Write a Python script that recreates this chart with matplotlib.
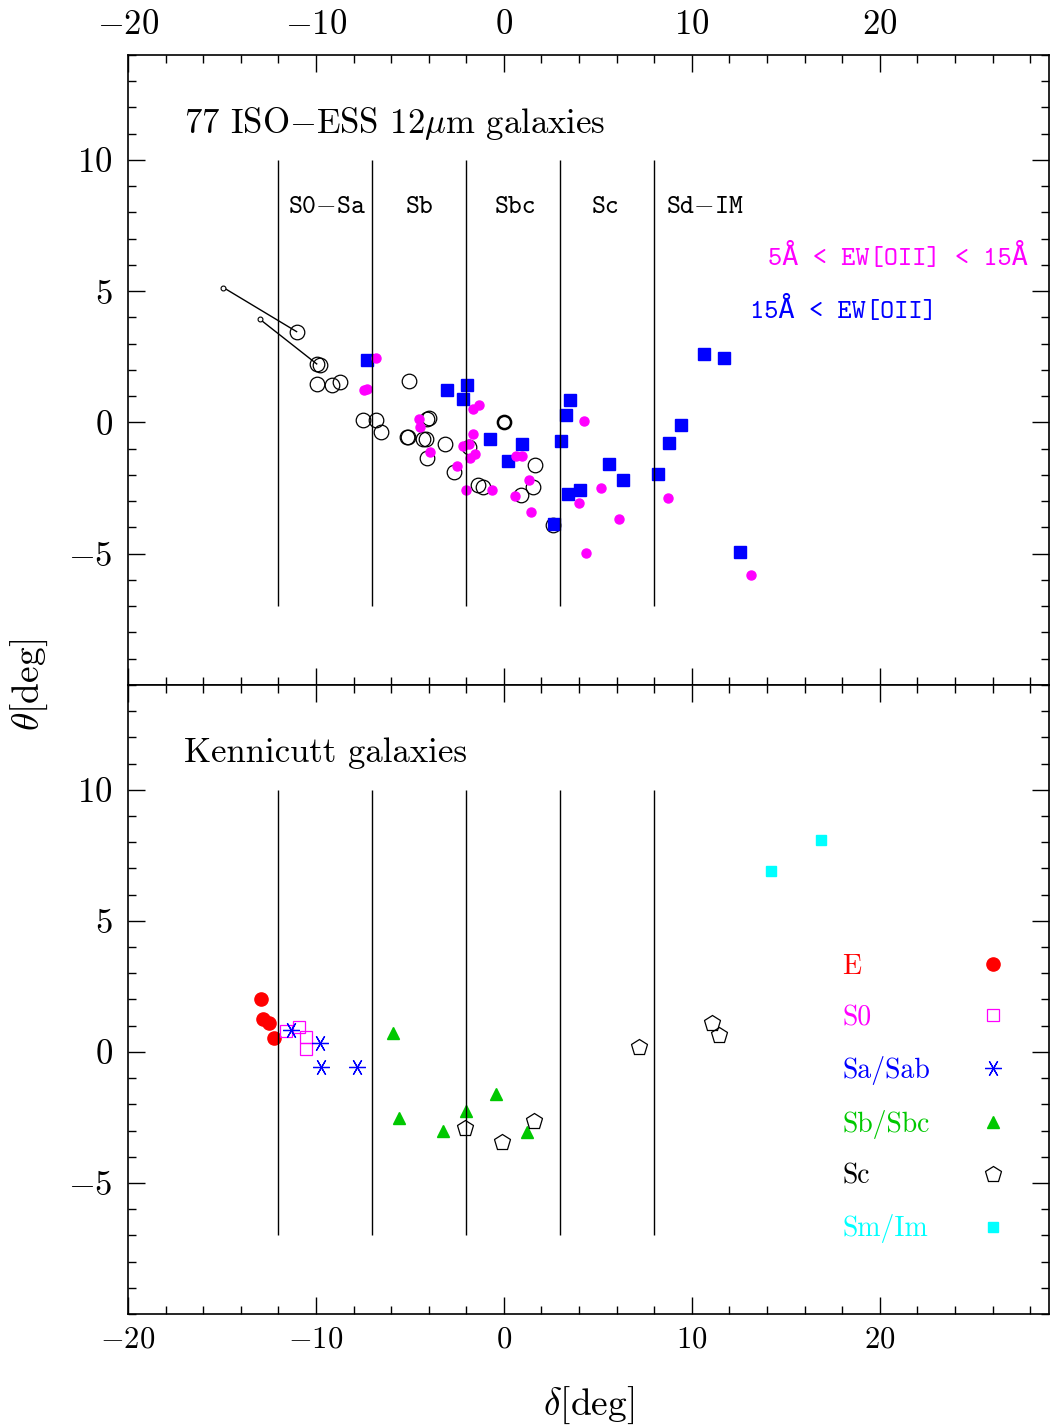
import matplotlib.pyplot as plt
from matplotlib.ticker import MultipleLocator

plt.rcParams['font.family'] = 'serif'
plt.rcParams['font.serif'] = ['cmr10', 'DejaVu Serif']
plt.rcParams['mathtext.fontset'] = 'cm'
plt.rcParams['axes.formatter.use_mathtext'] = True

# ---- top panel: 77 ISO-ESS 12um galaxies ----
# open circles (no/weak [OII])
iso_open_x = [-11.03, -9.96, -9.80, -9.96, -9.17, -8.72, -5.07, -7.52, -6.81, -6.56,
              -4.08, -3.97, -5.18, -5.12, -4.29, -4.15, -3.14, -4.11, -2.66, -1.85,
              -1.37, -1.13, 1.65, 1.56, 0.89, 2.59]
iso_open_y = [3.46, 2.23, 2.17, 1.48, 1.44, 1.53, 1.59, 0.08, 0.08, -0.38,
              0.15, 0.18, -0.54, -0.57, -0.64, -0.62, -0.82, -1.36, -1.87, -0.92,
              -2.37, -2.44, -1.62, -2.45, -2.75, -3.89]
# reference galaxy at origin (bold circle)
ref_x = [0.0]
ref_y = [0.0]
# shifted positions joined to their galaxies
tail_x = [-14.93, -12.98]
tail_y = [5.14, 3.93]
tail_to = [0, 1]

# 5A < EW[OII] < 15A
mid_x = [-6.81, -7.45, -7.27, -1.67, -1.31, -4.50, -4.47, -3.94, -2.52, -1.63,
         -2.16, -1.85, -1.81, -1.54, -1.99, -0.62, 0.67, 0.96, 1.35, 0.60,
         1.44, 4.27, 5.16, 3.99, 6.15, 4.38, 8.72, 13.16]
mid_y = [2.45, 1.22, 1.29, 0.53, 0.66, 0.15, -0.19, -1.12, -1.64, -0.44,
         -0.90, -0.81, -1.36, -1.21, -2.59, -2.56, -1.28, -1.26, -2.21, -2.82,
         -3.41, 0.05, -2.49, -3.07, -3.66, -4.96, -2.88, -5.81]
# 15A < EW[OII]
high_x = [-7.27, -3.01, -1.95, -2.16, -0.74, 0.98, 0.23, 2.66, 3.53, 3.28,
          3.05, 5.60, 6.35, 4.04, 3.42, 9.43, 8.79, 8.21, 10.66, 11.72, 12.57]
high_y = [2.39, 1.25, 1.44, 0.91, -0.64, -0.81, -1.45, -3.85, 0.86, 0.29,
          -0.69, -1.57, -2.21, -2.59, -2.74, -0.08, -0.77, -1.98, 2.60, 2.45, -4.94]

# type boundaries
bounds = [-12, -7, -2, 3, 8]
type_names = ['S0$-$Sa', 'Sb', 'Sbc', 'Sc', 'Sd$-$IM']
type_pos = [-9.4, -4.5, 0.6, 5.4, 10.7]

# ---- bottom panel: Kennicutt galaxies ----
e_x = [-12.93, -12.80, -12.48, -12.22]
e_y = [2.00, 1.25, 1.10, 0.53]
s0_x = [-11.60, -10.89, -10.55, -10.53]
s0_y = [0.78, 0.95, 0.57, 0.11]
sa_x = [-11.33, -9.79, -9.73, -7.84]
sa_y = [0.85, 0.33, -0.58, -0.58]
sb_x = [-5.92, -5.59, -3.23, -2.02, -0.41, 1.22]
sb_y = [0.72, -2.51, -3.00, -2.25, -1.62, -3.05]
sc_x = [-2.06, -0.12, 1.58, 7.20, 11.08, 11.45]
sc_y = [-2.92, -3.45, -2.63, 0.20, 1.12, 0.63]
sm_x = [14.20, 16.86]
sm_y = [6.89, 8.08]

magenta = '#ff00ff'
blue = '#0000ff'
green = '#00c800'
cyan = '#00ffff'
tt = ['cmtt10', 'DejaVu Sans Mono']

fig = plt.figure(figsize=(10.5, 14.27), dpi=100)
ax1 = fig.add_axes([0.1219, 0.52, 0.8771, 0.4415])
ax2 = fig.add_axes([0.1219, 0.0792, 0.8771, 0.4408], sharex=ax1)

# top panel
for i, j in enumerate(tail_to):
    ax1.plot([tail_x[i], iso_open_x[j]], [tail_y[i], iso_open_y[j]], color='black', lw=1)
ax1.plot(tail_x, tail_y, ls='none', marker='o', ms=3.5, mfc='white', mec='black', mew=0.8)
ax1.plot(iso_open_x, iso_open_y, ls='none', marker='o', ms=10.5, mfc='none', mec='black', mew=0.9)
ax1.plot(ref_x, ref_y, ls='none', marker='o', ms=9.5, mfc='none', mec='black', mew=1.8)
ax1.plot(high_x, high_y, ls='none', marker='s', ms=8, mfc=blue, mec=blue)
ax1.plot(mid_x, mid_y, ls='none', marker='o', ms=6.5, mfc=magenta, mec=magenta)

ax1.vlines(bounds, -7, 10, color='black', lw=1)
for name, xp in zip(type_names, type_pos):
    ax1.text(xp, 8.2, name, ha='center', va='center', fontsize=19, family=tt)

ax1.text(-17.0, 11.4, r'77 ISO$-$ESS 12$\mu$m galaxies', ha='left', va='center', fontsize=25)
ax1.text(27.9, 6.3, '5Å < EW[OII] < 15Å', ha='right', va='center', fontsize=19.5,
         color=magenta, family=tt)
ax1.text(13.1, 4.28, '15Å < EW[OII]', ha='left', va='center', fontsize=19.5,
         color=blue, family=tt)

# bottom panel
ax2.plot(e_x, e_y, ls='none', marker='o', ms=9.5, color='red', label='E')
ax2.plot(s0_x, s0_y, ls='none', marker='s', ms=9, mfc='none', mec=magenta, mew=0.9, label='S0')
ax2.plot(sa_x, sa_y, ls='none', marker=(6, 2, 90), ms=12, color=blue, mew=0.9, label='Sa/Sab')
ax2.plot(sb_x, sb_y, ls='none', marker='^', ms=8.5, color=green, label='Sb/Sbc')
ax2.plot(sc_x, sc_y, ls='none', marker='p', ms=12, mfc='none', mec='black', mew=0.9, label='Sc')
ax2.plot(sm_x, sm_y, ls='none', marker='s', ms=6.5, color=cyan, label='Sm/Im')

ax2.vlines(bounds, -7, 10, color='black', lw=1)
ax2.text(-17.0, 11.4, 'Kennicutt galaxies', ha='left', va='center', fontsize=25)

leg = ax2.legend(loc='center right', bbox_to_anchor=(0.966, 0.3426), frameon=False,
                 fontsize=20, labelcolor=['red', magenta, blue, green, 'black', cyan],
                 handlelength=1.0, handletextpad=1.05, labelspacing=0.89,
                 borderaxespad=0, markerfirst=False)
# left-align the labels, keep the markers in one column on the right
for col in leg._legend_handle_box.get_children():
    for row in col.get_children():
        row.mode = 'expand'
        row.width = 164

for ax in (ax1, ax2):
    ax.set_xlim(-20, 29)
    ax.set_ylim(-10, 14)
    ax.xaxis.set_major_locator(MultipleLocator(10))
    ax.xaxis.set_minor_locator(MultipleLocator(2))
    ax.yaxis.set_major_locator(MultipleLocator(5))
    ax.yaxis.set_minor_locator(MultipleLocator(1))
    ax.tick_params(which='both', direction='in', top=True, right=True)
    ax.tick_params(which='major', length=12, width=1)
    ax.tick_params(which='minor', length=6, width=1)
    ax.tick_params(axis='y', labelsize=25, pad=11)
    ax.set_yticks([-5, 0, 5, 10])
    for s in ax.spines.values():
        s.set_linewidth(1.2)

ax1.tick_params(axis='x', labelbottom=False, labeltop=True, labelsize=25, pad=10)
ax2.tick_params(axis='x', labelbottom=True, labeltop=False, labelsize=22, pad=9)

ax2.set_xlabel(r'$\delta[\rm deg]$', fontsize=27)
ax2.xaxis.set_label_coords(0.5, -0.113)
fig.text(0.028, 0.52, r'$\theta[\rm deg]$', rotation=90, ha='center', va='center', fontsize=27)

plt.savefig('out.png', dpi=100)
